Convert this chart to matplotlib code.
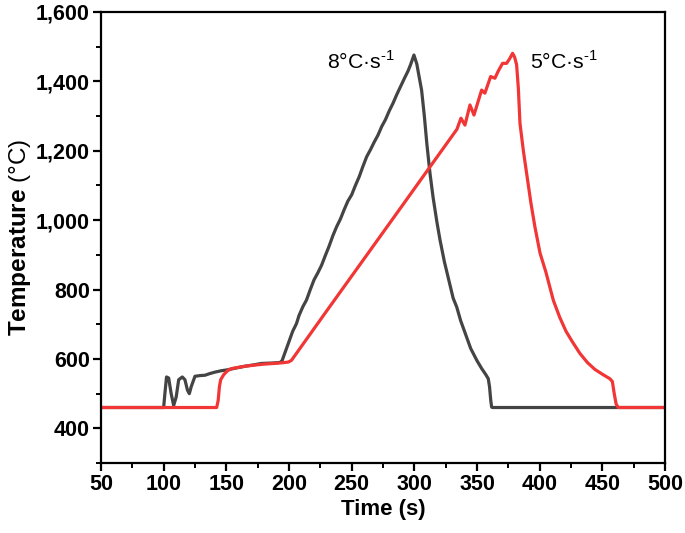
import matplotlib
matplotlib.use("Agg")
import matplotlib.pyplot as plt
from matplotlib.ticker import FuncFormatter, MultipleLocator

plt.rcParams['font.family'] = ['Liberation Sans', 'DejaVu Sans']
plt.rcParams['mathtext.fontset'] = 'custom'
plt.rcParams['mathtext.rm'] = 'Liberation Sans'
plt.rcParams['mathtext.bf'] = 'Liberation Sans:bold'

# 8 °C/s heating run (time s, temperature °C)
t_8 = [50, 100, 101, 102.3, 104, 106, 108, 110, 112, 114.9, 117, 119, 120.5, 122, 125,
       129, 133, 137, 141, 146, 151.6, 158, 165, 172, 178, 185, 190, 193, 194.5, 197,
       200, 203, 206, 208, 211, 214, 217, 220, 223, 226, 229, 232, 235, 238, 241, 244,
       247, 250, 253, 256, 259, 262, 265, 268, 271, 274, 277, 280, 283, 286, 289, 292,
       295, 297, 299.7, 302, 304, 305.8, 308, 310, 312.5, 315, 318, 320.5, 324, 328,
       331, 333.8, 337, 341, 345, 350, 353.8, 357, 359, 360, 361, 361.7, 362.5, 500]
T_8 = [460, 460, 500, 548, 545, 500, 466, 490, 540, 548, 540, 510, 500, 520, 550,
       552, 553, 558, 562, 566, 569, 574, 579, 583, 587, 588, 589, 590, 595, 620,
       650, 680, 702, 725, 750, 770, 800, 828, 848, 870, 898, 925, 955, 981, 1003, 1030,
       1055, 1073, 1100, 1125, 1155, 1183, 1203, 1225, 1245, 1270, 1290, 1315, 1337, 1362, 1385, 1408,
       1430, 1448, 1476, 1450, 1410, 1375, 1300, 1220, 1135, 1065, 995, 943, 880, 820,
       775, 750, 710, 670, 630, 595, 572, 555, 543, 520, 480, 461, 460, 460]

# 5 °C/s heating run (time s, temperature °C)
t_5 = [50, 142.3, 143.5, 144.5, 145.5, 148, 151, 154, 160, 165, 172, 180, 188, 195, 199.5,
       202, 230, 260, 290, 310, 334, 337.2, 340.4, 344.4, 347.6, 353.7, 356.3, 360.9, 364.3,
       367, 370.4, 373.6, 376, 378.4, 380, 381.6, 383, 384.3, 387, 389.6, 393, 396.2, 400.3,
       405, 410.9, 416, 421, 426, 432.1, 438, 444, 450, 456, 458, 459.5, 461, 462.7, 500]
T_5 = [460, 460, 480, 520, 540, 555, 566, 572, 576, 579, 582, 585, 587, 589, 591,
       596, 738, 889, 1040, 1141, 1262, 1294, 1274, 1332, 1303, 1375, 1366, 1414, 1409,
       1430, 1452, 1452, 1465, 1481, 1470, 1448, 1380, 1279, 1200, 1135, 1050, 981, 905,
       850, 769, 720, 680, 650, 616, 590, 570, 556, 543, 535, 500, 470, 460, 460]

x_ticks = [50, 100, 150, 200, 250, 300, 350, 400, 450, 500]
y_ticks = [400, 600, 800, 1000, 1200, 1400, 1600]

fig = plt.figure(figsize=(6.85, 5.33), dpi=100)
ax = fig.add_axes([0.1474, 0.1313, 0.8234, 0.8462])

ax.plot(t_8, T_8, color='#444444', lw=2.3, solid_joinstyle='round')
ax.plot(t_5, T_5, color='#f23535', lw=2.3, solid_joinstyle='round')

ax.set_xlim(50, 500)
ax.set_ylim(300, 1600)
ax.set_xticks(x_ticks)
ax.set_yticks(y_ticks)
ax.xaxis.set_minor_locator(MultipleLocator(25))
ax.yaxis.set_minor_locator(MultipleLocator(100))
ax.yaxis.set_major_formatter(FuncFormatter(lambda v, p: f"{v:,.0f}"))

for s in ax.spines.values():
    s.set_linewidth(1.6)
ax.tick_params(which='major', direction='out', length=6, width=1.6, labelsize=15.5, pad=2)
ax.tick_params(which='minor', direction='out', length=3.5, width=1.4)
for lab in ax.get_xticklabels() + ax.get_yticklabels():
    lab.set_fontweight('bold')

ax.set_xlabel('Time (s)', fontsize=16, fontweight='bold', labelpad=3)
ax.set_ylabel(r'$\mathbf{Temperature}$ (°C)', fontsize=17.5, labelpad=2)

ax.text(230.5, 1458, r'8°C·s$^{\text{-1}}$', fontsize=15.3, va='center', ha='left')
ax.text(392.5, 1458, r'5°C·s$^{\text{-1}}$', fontsize=15.3, va='center', ha='left')

fig.savefig('out.png', dpi=100)
